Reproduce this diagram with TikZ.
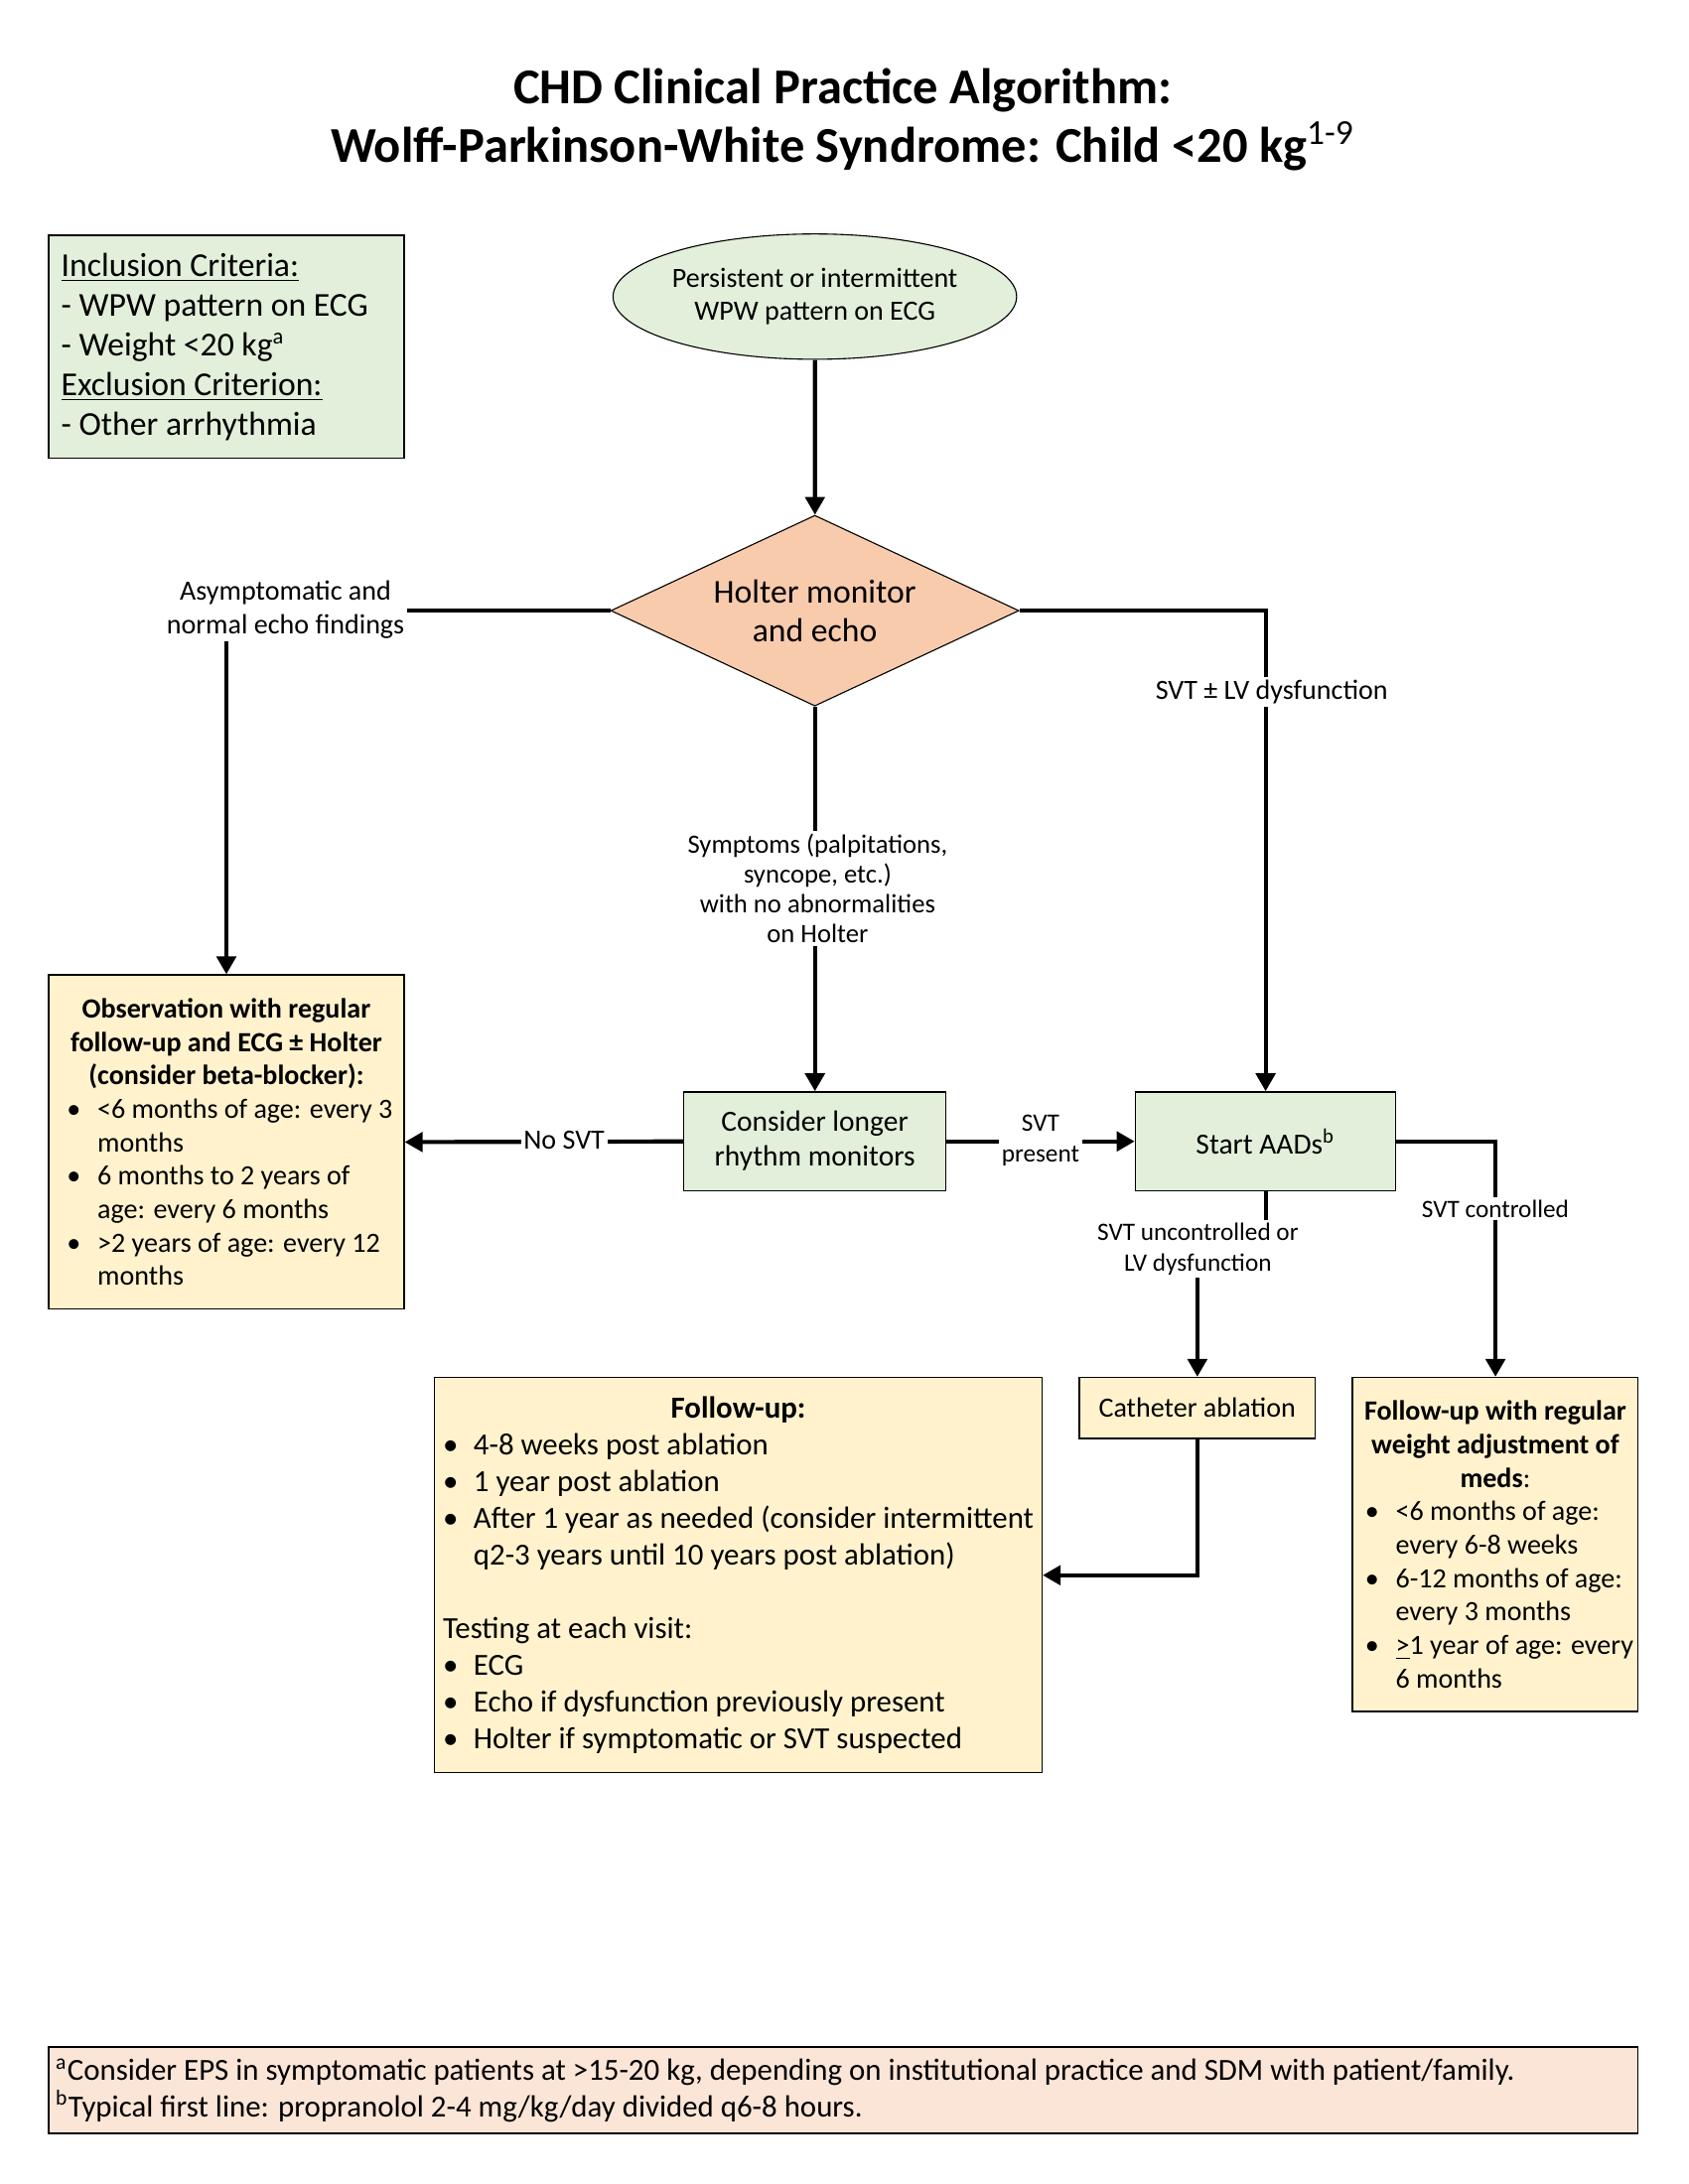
\documentclass[tikz,border=0pt]{standalone}
\usepackage{fontspec}
\setmainfont{Carlito}
\usetikzlibrary{shapes}
\usetikzlibrary{arrows.meta}
\definecolor{boxgreen}{HTML}{E2EFDA}
\definecolor{boxyellow}{HTML}{FFF2CC}
\definecolor{boxpeach}{HTML}{F8CBAD}
\definecolor{boxnote}{HTML}{FBE5D6}
\newcommand{\fsz}[2]{\fontsize{#1}{#2}\selectfont}
\newcommand{\blt}{\makebox[11pt][l]{\textbullet}}
\newcommand{\ind}{\hspace*{11pt}}
\newcommand{\boxtext}[3]{\parbox{#1}{\raggedright\leftskip=#2\relax\rightskip=-6pt plus 1fil\relax#3}}

\begin{document}
\begin{tikzpicture}[x=0.5pt,y=-0.5pt,scale=1.01,every node/.append style={transform shape},
		box/.style={draw,rectangle,line width=0.5pt,inner sep=0pt},
		greenbox/.style={box,fill=boxgreen},
		yellowbox/.style={box,fill=boxyellow},
		lbl/.style={fill=white,inner sep=1pt,align=center},
		arr/.style={line width=1.5pt,-{Triangle[width=7pt,length=6.5pt]}}]
		\useasboundingbox (0,0) rectangle (1211.9,1568.3);

		\node[align=center,font=\bfseries\fsz{18}{21}] (title) at (605,86) {CHD Clinical Practice Algorithm:\\Wolff-Parkinson-White Syndrome: Child <20 kg\textsuperscript{\mdseries 1-9}};

		\node[greenbox,minimum width=127.5pt,minimum height=80pt,font=\fsz{12}{14.3}] (incl) at (162.5,249)
			{\boxtext{127.5pt}{4.5pt}{\underline{Inclusion Criteria:}\\- WPW pattern on ECG\\- Weight <20 kg\textsuperscript{a}\\\underline{Exclusion Criterion:}\\- Other arrhythmia}};

		\node[ellipse,draw,fill=boxgreen,line width=0.4pt,minimum width=143pt,minimum height=45pt,inner sep=0pt,align=center,font=\fsz{10}{11.8}] (start) at (585,213)
			{Persistent or intermittent\\WPW pattern on ECG};
		\node[diamond,draw,fill=boxpeach,line width=0.4pt,aspect=2.14,minimum width=146.5pt,minimum height=68.5pt,inner sep=0pt,align=center,font=\fsz{12}{14}] (holter) at (585,438.5)
			{Holter monitor\\and echo};

		\node[yellowbox,minimum width=127.5pt,minimum height=120pt,font=\fsz{10}{12}] (obs) at (162.5,820)
			{\boxtext{127.5pt}{6.5pt}{{\centering\bfseries Observation with regular\\follow-up and ECG ± Holter\\(consider beta-blocker):\par}\blt <6 months of age: every 3\\\ind months\\\blt 6 months to 2 years of\\\ind age: every 6 months\\\blt >2 years of age: every 12\\\ind months}};
		\node[greenbox,minimum width=94pt,minimum height=35.5pt,align=center,font=\fsz{10.5}{12.5}] (longer) at (585,819.5) {Consider longer\\rhythm monitors};
		\node[greenbox,minimum width=93.5pt,minimum height=35.5pt,font=\fsz{10.5}{12.5}] (aads) at (908.5,819.5) {Start AADs\textsuperscript{b}};
		\node[yellowbox,minimum width=84.5pt,minimum height=22pt,font=\fsz{10}{12}] (ablation) at (859.5,1011) {Catheter ablation};

		\node[yellowbox,minimum width=218pt,minimum height=142pt,font=\fsz{11}{13.2}] (fup) at (530,1131)
			{\boxtext{218pt}{3pt}{{\centering\bfseries Follow-up:\par}\blt 4-8 weeks post ablation\\\blt 1 year post ablation\\\blt After 1 year as needed (consider intermittent\\\ind q2-3 years until 10 years post ablation)\\[13.2pt]Testing at each visit:\\\blt ECG\\\blt Echo if dysfunction previously present\\\blt Holter if symptomatic or SVT suspected}};
		\node[yellowbox,minimum width=102.5pt,minimum height=120pt,font=\fsz{10}{12}] (meds) at (1073.5,1109)
			{\boxtext{102.5pt}{4.5pt}{{\centering\bfseries Follow-up with regular\\weight adjustment of\\meds\mdseries:\par}\blt <6 months of age:\\\ind every 6-8 weeks\\\blt 6-12 months of age:\\\ind every 3 months\\\blt \underline{>}1 year of age: every\\\ind 6 months}};

		\node[box,fill=boxnote,minimum width=570.5pt,minimum height=31pt,font=\fsz{11}{13}] (notes) at (605.5,1501)
			{\boxtext{570.5pt}{2.5pt}{\textsuperscript{a}Consider EPS in symptomatic patients at >15-20 kg, depending on institutional practice and SDM with patient/family.\\\textsuperscript{b}Typical first line: propranolol 2-4 mg/kg/day divided q6-8 hours.}};

		\draw[arr] (start) -- (holter);
		\draw[arr] (holter.west) -| (obs.north);
		\draw[arr] (holter.east) -| (aads.north);
		\draw[arr] (holter.south) -- (longer.north);
		\draw[arr] (longer.west) -- (obs.east);
		\draw[arr] (longer.east) -- (aads.west);
		\coordinate (jog) at (908.5,897);
		\draw[arr] (aads.south) -- (jog) -| (ablation.north);
		\draw[arr] (aads.east) -| (meds.north);
		\draw[arr] (ablation.south) |- (fup.east);

		\node[lbl,font=\fsz{10}{12}] (asym) at (205,438) {Asymptomatic and\\normal echo findings};
		\node[lbl,font=\fsz{10}{12}] (lvdys) at (913,497) {SVT ± LV dysfunction};
		\node[lbl,font=\fsz{9.5}{10.7}] (symp) at (587,638) {Symptoms (palpitations,\\syncope, etc.)\\with no abnormalities\\on Holter};
		\node[lbl,font=\fsz{10}{12}] (nosvt) at (405,819) {No SVT};
		\node[lbl,font=\fsz{9}{11}] (present) at (747,819) {SVT\\present};
		\node[lbl,font=\fsz{9}{11}] (unctrl) at (860,897) {SVT uncontrolled or\\LV dysfunction};
		\node[lbl,font=\fsz{9}{11}] (ctrl) at (1073.5,868) {SVT controlled};
\end{tikzpicture}
\end{document}
